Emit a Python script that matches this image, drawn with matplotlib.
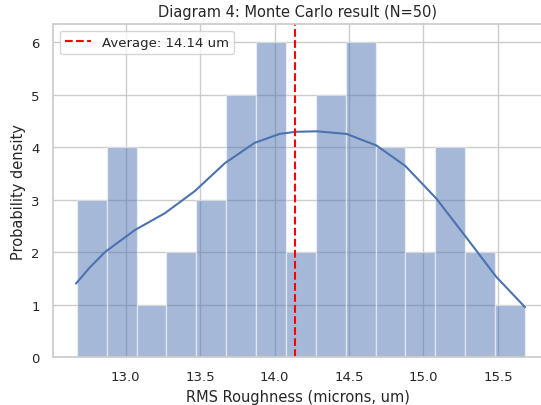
import numpy as np
import matplotlib
matplotlib.use('Agg')
import matplotlib.pyplot as plt
import seaborn as sns

# histogram counts per bin (15 bins, N=50)
counts = [3, 4, 1, 2, 3, 5, 6, 2, 5, 6, 4, 2, 4, 2, 1]
bin_start = 12.672
bin_width = 0.2006
# kde curve (x in um, y in count scale)
kde_x = [12.666, 12.76, 12.861, 13.062, 13.263, 13.464, 13.665, 13.866, 14.034,
         14.141, 14.282, 14.483, 14.684, 14.878, 15.086, 15.287, 15.488, 15.682]
kde_y = [1.40, 1.71, 2.00, 2.42, 2.74, 3.16, 3.69, 4.08, 4.25,
         4.29, 4.30, 4.25, 4.03, 3.64, 3.02, 2.28, 1.53, 0.95]
mean_val = 14.14

sns.set_theme(style='whitegrid')
plt.rcParams['font.family'] = ['DejaVu Sans']

fig = plt.figure(figsize=[5.41, 4.06], dpi=100)
ax = fig.add_axes([0.098, 0.118, 0.905, 0.82])

edges = bin_start + bin_width * np.arange(len(counts) + 1)
ax.bar(edges[:-1], counts, width=bin_width, align='edge',
       color='#4c72b0', alpha=0.5, edgecolor='white', linewidth=1.0)
ax.plot(kde_x, kde_y, color='#4c72b0', linewidth=1.5)
ax.axvline(mean_val, color='red', linestyle='--', linewidth=1.5,
           label='Average: %.2f um' % mean_val)

ax.set_xlim(12.512, 15.80)
ax.set_ylim(0, 6.34)
ax.set_xticks([13.0, 13.5, 14.0, 14.5, 15.0, 15.5])
ax.tick_params(labelsize=9.5)
ax.set_title('Diagram 4: Monte Carlo result (N=50)', fontsize=10.5)
ax.set_xlabel('RMS Roughness (microns, um)', fontsize=10.5)
ax.set_ylabel('Probability density', fontsize=10.5)
ax.legend(loc='upper left', fontsize=9.5)

plt.savefig('out.png', dpi=100)
